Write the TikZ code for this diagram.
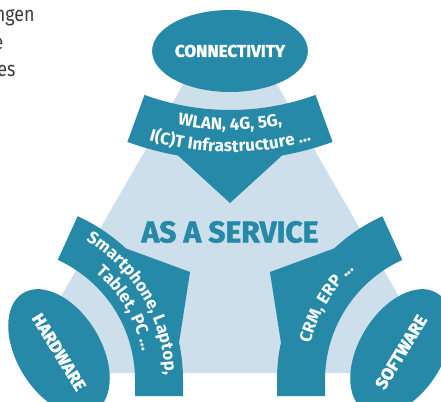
\documentclass[tikz,border=0pt]{standalone}
\usepackage{fontspec}
\setmainfont{Fira Sans}
\newfontfamily\heavyfont{Fira Sans}[FakeBold=1.8]
\newfontfamily\condfont{Fira Sans}[FakeStretch=0.85]
\usetikzlibrary{shapes.geometric,decorations.text}
\definecolor{tealA}{HTML}{2789A8}
\definecolor{lightA}{HTML}{CCDFEA}
\definecolor{grayA}{HTML}{3A3A3A}
\newcommand\bandfont{\fontsize{17}{17}\selectfont\bfseries}
\begin{document}
\begin{tikzpicture}[x=1pt,y=-1pt,
  band/.style={fill=tealA},
  bigell/.style={ellipse, fill=tealA, inner sep=0pt, text=white,
    font=\heavyfont\bfseries\fontsize{17}{17}\selectfont},
  bandtext/.style={decorate, decoration={text along path, text align=center,
    text color=white, text={#1}}},
  sidetext/.style={anchor=base east, text=grayA, font=\condfont\fontsize{21}{21}\selectfont}]
\useasboundingbox (0,0) rectangle (441,401);
% background triangle
\fill[lightA, rounded corners=14pt] (230,3) -- (17,373) -- (443,373) -- cycle;
% top band
\begin{scope}[shift={(230,-140)}]
  \fill[band] (110:250) arc[start angle=110, end angle=70, radius=250]
    -- (70:300) arc[start angle=70, end angle=80, radius=300]
    -- (90:343) -- (100:300) arc[start angle=100, end angle=110, radius=300] -- cycle;
  \path[bandtext={|\bandfont|WLAN, 4G, 5G,}] (130:270) arc[start angle=130, end angle=50, radius=270];
  \path[bandtext={|\bandfont|I(C)T Infrastructure ...}] (130:292) arc[start angle=130, end angle=50, radius=292];
\end{scope}
% hardware band
\begin{scope}[shift={(3,380)}]
  \fill[band] (-65.5:180) arc[start angle=-65.5, end angle=-47, radius=180]
    -- (-30:216) -- (-12:180) arc[start angle=-12, end angle=0, radius=180]
    -- (180,16) -- (132,16) -- (0:132) arc[start angle=0, end angle=-65.5, radius=132] -- cycle;
  \path[bandtext={|\bandfont|Smartphone, Laptop,}] (-75.5:162) arc[start angle=-75.5, end angle=14.5, radius=162];
  \path[bandtext={|\bandfont|Tablet, PC ...}] (-75.5:142) arc[start angle=-75.5, end angle=14.5, radius=142];
\end{scope}
% software band (mirror)
\begin{scope}[shift={(457,380)}, xscale=-1]
  \fill[band] (-65.5:180) arc[start angle=-65.5, end angle=-47, radius=180]
    -- (-30:216) -- (-12:180) arc[start angle=-12, end angle=0, radius=180]
    -- (180,16) -- (132,16) -- (0:132) arc[start angle=0, end angle=-65.5, radius=132] -- cycle;
\end{scope}
\begin{scope}[shift={(457,380)}]
  \path[bandtext={|\bandfont|CRM, ERP ...}] (170.5:151) arc[start angle=170.5, end angle=250.5, radius=151];
\end{scope}
% ellipses
\node[bigell, minimum width=124pt, minimum height=82pt] (conn) at (230,51) {CONNECTIVITY};
\node[bigell, minimum width=138pt, minimum height=84pt, rotate=-58.6] (hw) at (59,352) {HARDWARE};
\node[bigell, minimum width=138pt, minimum height=84pt, rotate=58.6] (sw) at (401,352) {SOFTWARE};
% centre label
\node[text=tealA, font=\heavyfont\bfseries\fontsize{30}{30}\selectfont] (aas) at (230,232) {AS A SERVICE};
% cut-off side text
\node[sidetext] (s1) at (38,22) {ngen};
\node[sidetext] (s2) at (7,50) {e};
\node[sidetext] (s3) at (19,77) {es};
\end{tikzpicture}
\end{document}
